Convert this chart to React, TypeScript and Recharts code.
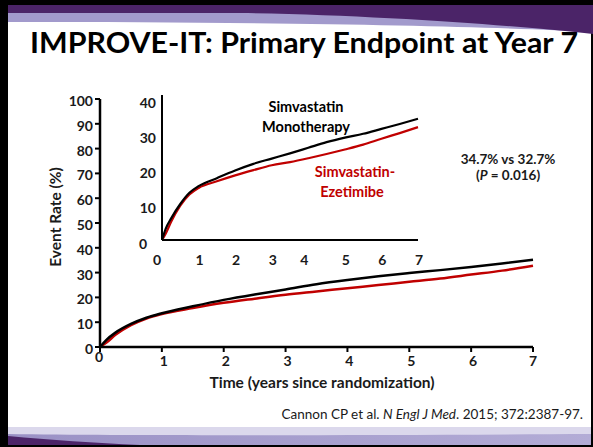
import React from "react";
import { LineChart, Line, XAxis, YAxis } from "recharts";

// Kaplan-Meier style event rates (%)
const years = [0, 0.1, 0.25, 0.5, 0.75, 1, 1.5, 2, 2.5, 3, 3.5, 4, 4.5, 5, 5.5, 6, 6.5, 7];
const monoMain = [0, 2.8, 5.8, 9.3, 11.8, 13.6, 16.4, 19, 21.2, 23.2, 25.3, 27, 28.5, 29.8, 31, 32.3, 33.7, 35.2];
const ezeMain = [0, 1.7, 4.9, 8.8, 11.5, 13.3, 15.7, 17.8, 19.5, 21.1, 22.4, 23.7, 25, 26.3, 27.6, 29.2, 30.8, 32.8];
const monoInset = [0, 3.2, 6.2, 10.3, 13.5, 15.4, 17.7, 19.9, 21.8, 23.3, 24.8, 26.4, 28, 29.3, 30.4, 31.8, 33.2, 34.7];
const ezeInset = [0, 1.8, 5.2, 9.8, 13, 14.9, 16.8, 18.5, 20, 21.4, 22.3, 23.4, 24.6, 25.9, 27.3, 29, 30.6, 32.3];

const xTicks = [0, 1, 2, 3, 4, 5, 6, 7];
const mainYTicks = [0, 10, 20, 30, 40, 50, 60, 70, 80, 90, 100];
const insetYTicks = [0, 10, 20, 30, 40];

const mainData = years.map((t, i) => ({ t, mono: monoMain[i], eze: ezeMain[i] }));
const insetData = years.map((t, i) => ({ t, mono: monoInset[i], eze: ezeInset[i] }));

const FONT = "Lato, 'Open Sans', sans-serif";
const INK = "#1a1a1a";
const RED = "#C00000";
const PURPLE = "#4B2468";
const LAVENDER = "#A29ACC";

// tick label with small nudges so the labels sit like the original slide
const makeTick = (offsets: Record<number, [number, number]>, vertical: boolean) => (props: any) => {
  const { x, y, payload, textAnchor } = props;
  const [dx, dy] = offsets[payload.value] || offsets[-1] || [0, 0];
  return (
    <text
      x={x + dx}
      y={y + dy}
      dy={vertical ? "0.355em" : "0.71em"}
      textAnchor={textAnchor}
      fontFamily={FONT}
      fontSize={14}
      fontWeight={700}
      fill={INK}
    >
      {payload.value}
    </text>
  );
};

const MainXTick = makeTick({ [-1]: [2, 0], 0: [-1, -4], 7: [0, 0] }, false);
const MainYTick = makeTick({ [-1]: [0, 2] }, true);
const InsetXTick = makeTick({ [-1]: [1, 0], 0: [-5, 0], 4: [-4, 0] }, false);
const InsetYTick = makeTick({ [-1]: [0, 3], 0: [-9, 4] }, true);

export default function App() {
  return (
    <div
      style={{
        position: "absolute",
        left: 0,
        top: 0,
        width: 593,
        height: 447,
        background: "#fff",
        overflow: "hidden",
        fontFamily: FONT,
      }}
    >
      {/* slide frame, bands and loose text */}
      <svg width={593} height={447} style={{ position: "absolute", left: 0, top: 0 }}>
        <defs>
          <linearGradient id="bottomBand" x1="0" x2="1" y1="0" y2="0">
            <stop offset="0" stopColor="#9A91C5" />
            <stop offset="1" stopColor="#B3ACD6" />
          </linearGradient>
        </defs>
        <rect x={0} y={0} width={593} height={447} fill="#000" />
        <rect x={8} y={5} width={583} height={440} fill="#fff" />
        {/* top band */}
        <path d="M8,13 H593 V32 C 500,27 300,22 8,22 Z" fill={LAVENDER} />
        <path d="M8,5 H593 V34 C 520,26 380,15 240,13 H8 Z" fill={PURPLE} />
        {/* bottom band */}
        <rect x={8} y={427} width={583} height={18} fill="#DBD8EC" />
        <path d="M8,434 C 150,436 400,435 591,434 V445 H8 Z" fill="url(#bottomBand)" />
        <path d="M8,436 C 50,440 95,443 140,445 H8 Z" fill={PURPLE} />

        <text
          x={30}
          y={53}
          textLength={548}
          lengthAdjust="spacingAndGlyphs"
          fontFamily={FONT}
          fontSize={28}
          fontWeight={700}
          fill="#000"
        >
          IMPROVE-IT: Primary Endpoint at Year 7
        </text>

        <text
          transform="translate(61,217) rotate(-90)"
          textAnchor="middle"
          fontFamily={FONT}
          fontSize={15.5}
          fontWeight={700}
          fill={INK}
        >
          Event Rate (%)
        </text>
        <text x={322} y={388} textAnchor="middle" fontFamily={FONT} fontSize={15.5} fontWeight={700} fill={INK}>
          Time (years since randomization)
        </text>

        <g fontFamily={FONT} fontSize={14.5} fontWeight={700} textAnchor="middle">
          <text x={306} y={112} fill="#000">Simvastatin</text>
          <text x={306} y={132} fill="#000">Monotherapy</text>
          <text x={355} y={177} fill={RED}>Simvastatin-</text>
          <text x={352} y={197} fill={RED}>Ezetimibe</text>
        </g>

        <g fontFamily={FONT} fontSize={13.5} fontWeight={700} textAnchor="middle" fill={INK}>
          <text x={508} y={164}>34.7% vs 32.7%</text>
          <text x={508} y={180}>
            (<tspan fontStyle="italic">P</tspan> = 0.016)
          </text>
        </g>

        <text x={583} y={419} textAnchor="end" fontFamily={FONT} fontSize={13.5} fill={INK}>
          Cannon CP et al. <tspan fontStyle="italic">N Engl J Med</tspan>. 2015; 372:2387-97.
        </text>
      </svg>

      {/* main chart: 0-100% over 7 years */}
      <div style={{ position: "absolute", left: 0, top: 0 }}>
        <LineChart
          width={593}
          height={447}
          data={mainData}
          margin={{ top: 99, right: 60, bottom: 70, left: 60 }}
        >
          <XAxis
            type="number"
            dataKey="t"
            domain={[0, 7]}
            ticks={xTicks}
            interval={0}
            height={30}
            tickSize={5}
            tickMargin={4}
            axisLine={{ stroke: "#000", strokeWidth: 2.5 }}
            tickLine={{ stroke: "#000", strokeWidth: 2 }}
            tick={MainXTick}
          />
          <YAxis
            type="number"
            domain={[0, 100]}
            ticks={mainYTicks}
            interval={0}
            width={40}
            tickSize={5}
            tickMargin={2}
            axisLine={{ stroke: "#000", strokeWidth: 2.5 }}
            tickLine={{ stroke: "#000", strokeWidth: 2 }}
            tick={MainYTick}
          />
          <Line
            type="monotone"
            dataKey="eze"
            stroke={RED}
            strokeWidth={2.5}
            dot={false}
            isAnimationActive={false}
          />
          <Line
            type="monotone"
            dataKey="mono"
            stroke="#000"
            strokeWidth={2.5}
            dot={false}
            isAnimationActive={false}
          />
        </LineChart>
      </div>

      {/* inset: zoomed 0-40% view */}
      <div style={{ position: "absolute", left: 100, top: 80 }}>
        <LineChart
          width={330}
          height={200}
          data={insetData}
          margin={{ top: 15, right: 12, bottom: 15, left: 22 }}
        >
          <XAxis
            type="number"
            dataKey="t"
            domain={[0, 7]}
            ticks={xTicks}
            interval={0}
            height={25}
            tickSize={0}
            tickMargin={15}
            axisLine={{ stroke: "#000", strokeWidth: 2 }}
            tickLine={false}
            tick={InsetXTick}
          />
          <YAxis
            type="number"
            domain={[0, 41.5]}
            ticks={insetYTicks}
            interval={0}
            width={40}
            tickSize={0}
            tickMargin={6}
            axisLine={{ stroke: "#000", strokeWidth: 2 }}
            tickLine={false}
            tick={InsetYTick}
          />
          <Line
            type="monotone"
            dataKey="eze"
            stroke={RED}
            strokeWidth={2.2}
            dot={false}
            isAnimationActive={false}
          />
          <Line
            type="monotone"
            dataKey="mono"
            stroke="#000"
            strokeWidth={2.2}
            dot={false}
            isAnimationActive={false}
          />
        </LineChart>
      </div>
    </div>
  );
}
